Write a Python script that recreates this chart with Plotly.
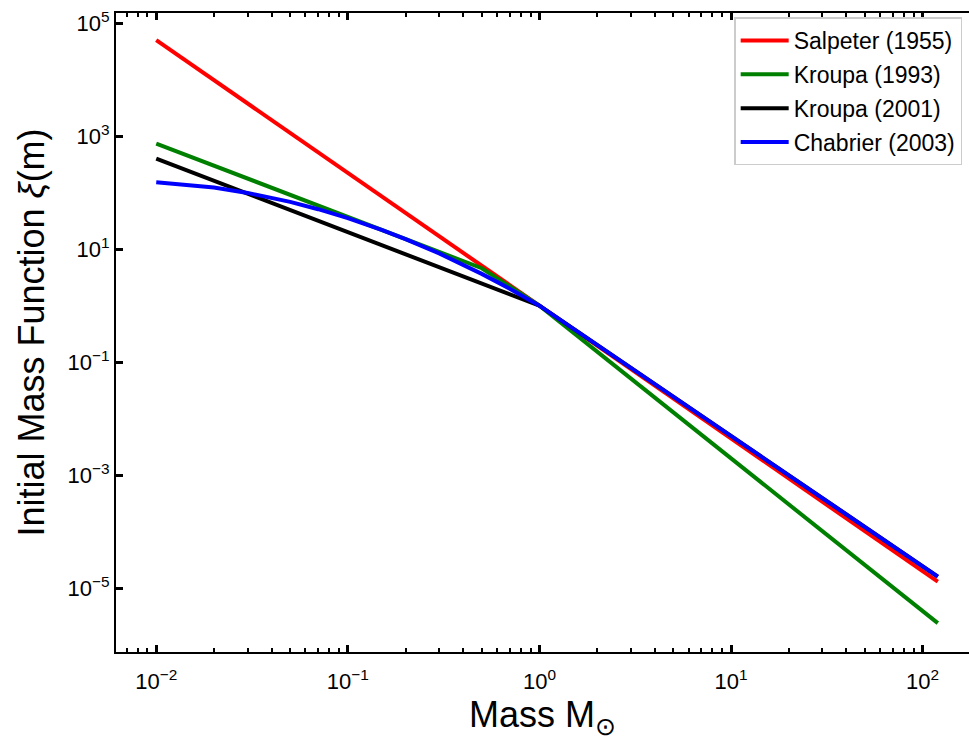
import plotly.graph_objects as go

# Initial mass functions, normalised to xi(1 Msun) = 1
salpeter_m = [0.01, 1.0, 120.0]
salpeter_xi = [5.0e4, 1.0, 1.3e-5]

kroupa93_m = [0.01, 0.5, 1.0, 120.0]
kroupa93_xi = [740.0, 4.6, 1.0, 2.4e-6]

kroupa01_m = [0.01, 1.0, 120.0]
kroupa01_xi = [400.0, 1.0, 1.6e-5]

chabrier_m = [0.01, 0.02, 0.03, 0.05, 0.07, 0.1, 0.15, 0.2, 0.3, 0.5, 0.7, 1.0, 120.0]
chabrier_xi = [153.0, 123.0, 99.0, 68.7, 51.0, 35.4, 22.0, 15.1, 8.4, 3.65, 2.0, 1.0, 1.6e-5]

x_tickvals = [1e-2, 1e-1, 1e0, 1e1, 1e2]
x_ticktext = ["10<sup>\u22122</sup>", "10<sup>\u22121</sup>", "10<sup>0</sup>",
              "10<sup>1</sup>", "10<sup>2</sup>"]
y_tickvals = [1e-5, 1e-3, 1e-1, 1e1, 1e3, 1e5]
y_ticktext = ["10<sup>\u22125</sup>", "10<sup>\u22123</sup>", "10<sup>\u22121</sup>",
              "10<sup>1</sup>", "10<sup>3</sup>", "10<sup>5</sup>"]

x_minor = [k * 10.0 ** e for e in range(-3, 3) for k in range(2, 10)]

series = [
    ("Salpeter (1955)", salpeter_m, salpeter_xi, "#ff0000"),
    ("Kroupa (1993)", kroupa93_m, kroupa93_xi, "#008000"),
    ("Kroupa (2001)", kroupa01_m, kroupa01_xi, "#000000"),
    ("Chabrier (2003)", chabrier_m, chabrier_xi, "#0000ff"),
]

fig = go.Figure()
for name, m, xi, color in series:
    fig.add_trace(go.Scatter(x=m, y=xi, mode="lines", name=name, legendgroup=name,
                             line=dict(color=color, width=4)))

font_family = "Liberation Sans, Arial, sans-serif"

fig.update_layout(
    width=969, height=740,
    margin=dict(l=116, r=0, t=13, b=88),
    paper_bgcolor="white", plot_bgcolor="white",
    font=dict(family=font_family, color="black"),
    showlegend=True,
    legend=dict(
        x=0.992, xanchor="right", y=0.993, yanchor="top",
        bgcolor="white", bordercolor="#cccccc", borderwidth=1.5,
        font=dict(size=23, family=font_family),
        tracegroupgap=1,
        itemwidth=48,
    ),
    xaxis=dict(
        type="log", range=[-2.21, 2.242],
        tickvals=x_tickvals, ticktext=x_ticktext,
        ticks="inside", ticklen=7, tickwidth=2.5, tickcolor="black",
        ticklabelstandoff=9,
        showline=True, linewidth=2, linecolor="black", mirror="ticks",
        showgrid=False, zeroline=False,
        tickfont=dict(size=22),
        minor=dict(tickvals=x_minor, ticks="inside", ticklen=4,
                   tickwidth=1.5, tickcolor="black", showgrid=False),
        title=dict(text="Mass M<sub>\u2299</sub>", font=dict(size=36), standoff=8),
    ),
    yaxis=dict(
        type="log", range=[-6.13, 5.18],
        tickvals=y_tickvals, ticktext=y_ticktext,
        ticks="inside", ticklen=7, tickwidth=2.5, tickcolor="black",
        ticklabelstandoff=0,
        showline=True, linewidth=2, linecolor="black", mirror=False,
        showgrid=False, zeroline=False,
        tickfont=dict(size=22),
        title=dict(text="Initial Mass Function <i>\u03be</i>(m)", font=dict(size=36), standoff=12),
    ),
)

fig.write_html("out.html")
